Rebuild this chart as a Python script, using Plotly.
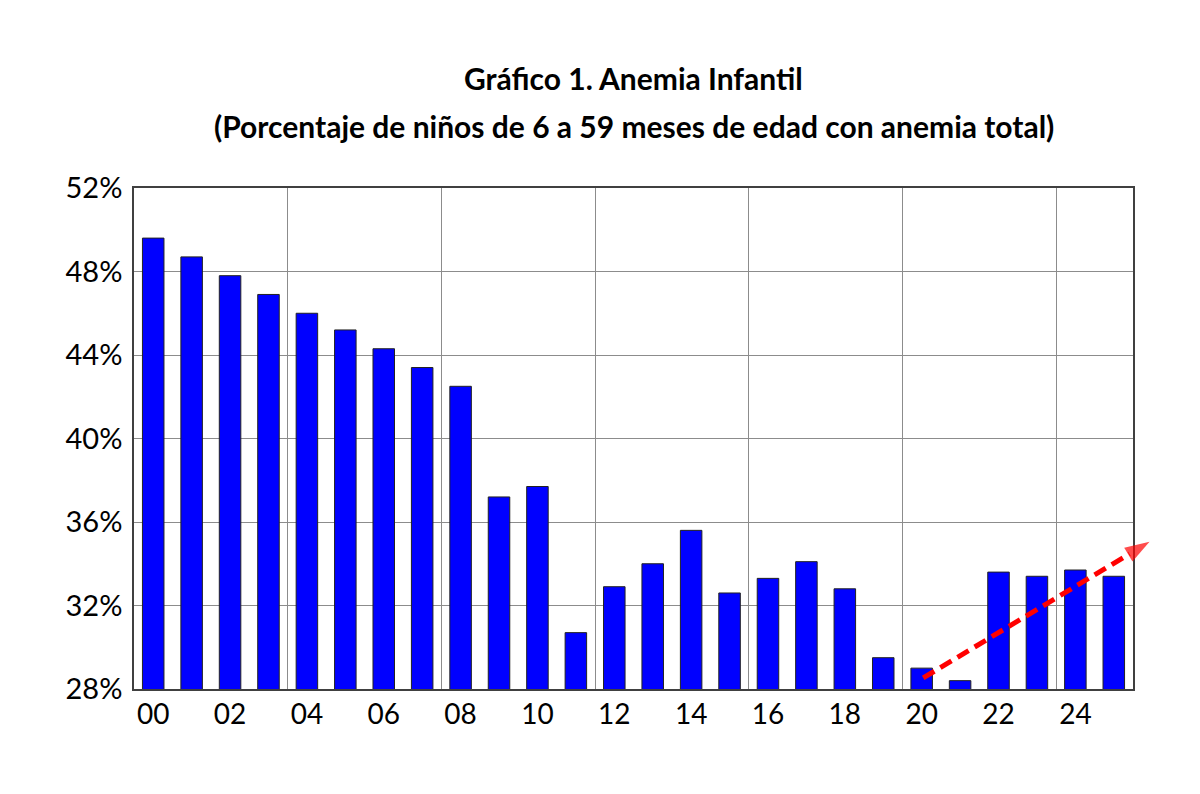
import numpy as np
import plotly.graph_objects as go

# Datos: porcentaje de niños de 6 a 59 meses con anemia total
years = ["00", "01", "02", "03", "04", "05", "06", "07", "08", "09", "10", "11", "12",
         "13", "14", "15", "16", "17", "18", "19", "20", "21", "22", "23", "24", "25"]
anemia = [49.6, 48.7, 47.8, 46.9, 46.0, 45.2, 44.3, 43.4, 42.5, 37.2, 37.7, 30.7, 32.9,
          34.0, 35.6, 32.6, 33.3, 34.1, 32.8, 29.5, 29.0, 28.4, 33.6, 33.4, 33.7, 33.4]

# flecha de tendencia (posición en años / porcentaje)
trend_x = [20.04, 25.93]
trend_y = [28.53, 35.05]

y_ticks = [28, 32, 36, 40, 44, 48, 52]

# la página añade 8px de margen alrededor de la figura
W, H = 1200, 794
ML, MR, MT, MB = 126, 28, 180, 113
plot_w = 999
paper_w = W - ML - MR
dom = plot_w / paper_w
plot_h = H - MT - MB

xpos = np.arange(len(years))

fig = go.Figure()
fig.add_trace(go.Bar(
    x=xpos, y=anemia, width=0.56,
    marker=dict(color="#0000FF", line=dict(color="#222222", width=1)),
    hoverinfo="x+y", showlegend=False,
))

# eje auxiliar más ancho para que la flecha salga del área del gráfico
fig.add_trace(go.Scatter(
    x=trend_x, y=trend_y, xaxis="x2", yaxis="y2",
    mode="lines+markers",
    line=dict(color="#FF0000", width=5, dash="13px,7px"),
    marker=dict(symbol="arrow", angleref="previous", size=[0, 26], color="#FF0000",
                line=dict(width=0)),
    showlegend=False, hoverinfo="skip",
))

font = "Lato, 'Open Sans', sans-serif"

fig.update_layout(
    width=W, height=H,
    margin=dict(l=ML, r=MR, t=MT, b=MB),
    paper_bgcolor="white", plot_bgcolor="rgba(0,0,0,0)",
    font=dict(family=font, color="black"),
    xaxis=dict(
        domain=[0, dom], range=[-0.5, len(years) - 0.5],
        tickmode="array", tickvals=xpos[::2].tolist(), ticktext=years[::2],
        tickfont=dict(size=28), ticks="", ticklen=0,
        showgrid=False, zeroline=False,
        showline=True, linecolor="#404040", linewidth=1.5, mirror=True,
        minor=dict(tickmode="array", tickvals=np.arange(-0.5, len(years), 4).tolist(),
                   showgrid=True, gridcolor="#8c8c8c", gridwidth=1, ticks=""),
    ),
    xaxis2=dict(
        domain=[0, 1], anchor="y2", visible=False,
        range=[-0.5, -0.5 + len(years) / dom],
    ),
    yaxis=dict(
        range=[28, 52], tickmode="array", tickvals=y_ticks,
        ticktext=[f"{v}%" for v in y_ticks], tickfont=dict(size=29),
        ticks="", ticklabelstandoff=4,
        showgrid=True, gridcolor="#8c8c8c", gridwidth=1, zeroline=False,
        showline=True, linecolor="#404040", linewidth=1.5, mirror=True,
    ),
    yaxis2=dict(
        overlaying="y", anchor="x2", range=[28, 52], visible=False, showgrid=False,
    ),
    annotations=[
        dict(text="<b>Gráfico 1. Anemia Infantil</b>", xref="x", yref="paper",
             x=12.5, y=1 + 110 / plot_h, yanchor="middle", showarrow=False,
             font=dict(size=30, family=font)),
        dict(text="<b>(Porcentaje de niños de 6 a 59 meses de edad con anemia total)</b>",
             xref="x", yref="paper", x=12.5, y=1 + 62 / plot_h, yanchor="middle",
             showarrow=False, font=dict(size=30, family=font)),
    ],
)

fig.write_html("out.html")
